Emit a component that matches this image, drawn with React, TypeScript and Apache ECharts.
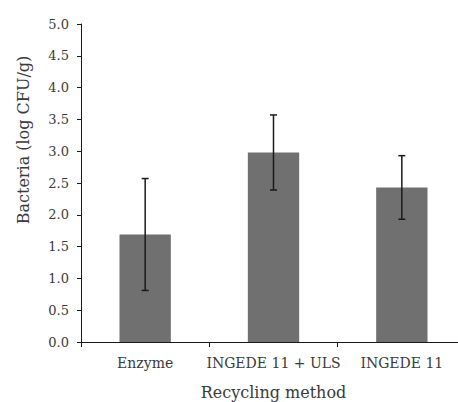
import React, { useEffect, useRef } from "react";
import * as echarts from "echarts";

const categories = ["Enzyme", "INGEDE 11 + ULS", "INGEDE 11"];
const means = [1.69, 2.98, 2.43];
const errors = [0.88, 0.59, 0.5];
const yTicks = { min: 0, max: 5, interval: 0.5 };
const xAxisName = "Recycling method";
const yAxisName = "Bacteria (log CFU/g)";

const FONT = "'DejaVu Serif', 'Liberation Serif', serif";
const TEXT = "#3a3a3a";

export default function App() {
  const ref = useRef<HTMLDivElement>(null);
  useEffect(() => {
    if (!ref.current) return;
    const chart = echarts.init(ref.current, undefined, { renderer: "svg" });
    const errData = categories.map((c, i) => [i, means[i] - errors[i], means[i] + errors[i]]);
    chart.setOption({
      animation: false,
      grid: { left: 81, right: 0, top: 24, bottom: 60, outerBoundsMode: "none", containLabel: false },
      xAxis: {
        type: "category",
        data: categories,
        name: xAxisName,
        nameLocation: "middle",
        nameGap: 42,
        nameTextStyle: { fontFamily: FONT, fontSize: 16, color: TEXT },
        axisLine: { lineStyle: { color: "#1a1a1a", width: 1 } },
        axisTick: { show: true, interval: 0, length: 5, lineStyle: { color: "#1a1a1a" } },
        axisLabel: { interval: 0, fontFamily: FONT, fontSize: 14, color: TEXT, margin: 14 },
        splitLine: { show: false },
      },
      yAxis: {
        type: "value",
        min: yTicks.min,
        max: yTicks.max,
        interval: yTicks.interval,
        axisLine: { show: true, lineStyle: { color: "#1a1a1a", width: 1 } },
        axisTick: { show: true, length: 4, lineStyle: { color: "#1a1a1a" } },
        axisLabel: {
          fontFamily: FONT,
          fontSize: 13,
          color: TEXT,
          margin: 12,
          formatter: (v: number) => v.toFixed(1),
        },
        splitLine: { show: false },
      },
      graphic: [
        {
          type: "text",
          x: 23.5,
          y: 140,
          rotation: Math.PI / 2,
          style: {
            text: yAxisName,
            fontFamily: FONT,
            fontSize: 16,
            fill: TEXT,
            textAlign: "center",
            textVerticalAlign: "middle",
          },
        },
      ],
      series: [
        {
          type: "bar",
          data: means,
          barWidth: "40%",
          itemStyle: { color: "#707070" },
        },
        {
          type: "custom",
          data: errData,
          z: 10,
          renderItem: (params: any, api: any) => {
            const x = api.value(0);
            const lo = api.coord([x, api.value(1)]);
            const hi = api.coord([x, api.value(2)]);
            const hw = 3.5;
            const style = { stroke: "#1a1a1a", lineWidth: 1.5 };
            return {
              type: "group",
              children: [
                { type: "line", shape: { x1: hi[0], y1: hi[1], x2: lo[0], y2: lo[1] }, style },
                { type: "line", shape: { x1: hi[0] - hw, y1: hi[1], x2: hi[0] + hw, y2: hi[1] }, style },
                { type: "line", shape: { x1: lo[0] - hw, y1: lo[1], x2: lo[0] + hw, y2: lo[1] }, style },
              ],
            };
          },
        },
      ],
    });
    return () => chart.dispose();
  }, []);
  return (
    <div style={{ position: "absolute", left: 0, top: 0, width: 458, height: 402, overflow: "hidden" }}>
      <div ref={ref} style={{ width: 466, height: 402 }} />
    </div>
  );
}
